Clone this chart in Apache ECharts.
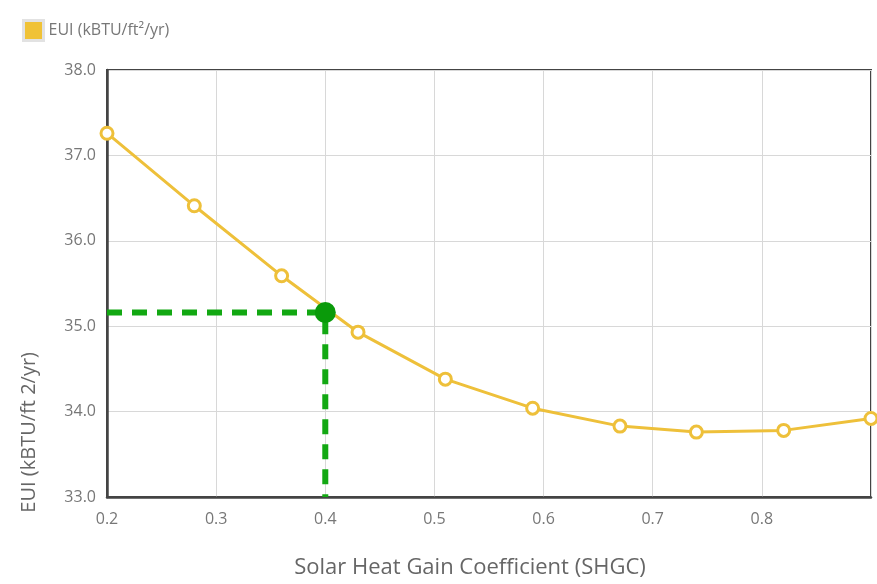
<!DOCTYPE html>
<html><head><meta charset="utf-8">
<script src="https://cdn.jsdelivr.net/npm/echarts@6/dist/echarts.min.js"></script>
<style>html,body{margin:0;padding:0;background:#fff}#c{width:877px;height:584px}</style>
</head><body><div id="c"></div>
<script>
const shgc = [0.2, 0.28, 0.36, 0.43, 0.51, 0.59, 0.67, 0.74, 0.82, 0.9];
const eui = [37.26, 36.41, 35.59, 34.93, 34.38, 34.04, 33.83, 33.76, 33.78, 33.92];
const selX = 0.4;
const selY = 35.16;
const yMin = 33, yMax = 38, xMin = 0.2, xMax = 0.9;
const seriesName = 'EUI (kBTU/ft²/yr)';
const xTitle = 'Solar Heat Gain Coefficient (SHGC)';
const yTitle = 'EUI (kBTU/ft 2/yr)';

const font = '"Open Sans", "DejaVu Sans", sans-serif';
const chart = echarts.init(document.getElementById('c'));
chart.setOption({
  animation: false,
  textStyle: {fontFamily: font},
  legend: {
    left: 17, top: 14, itemWidth: 20, itemHeight: 20, itemGap: 10, icon: 'rect',
    data: [{name: seriesName, itemStyle: {color: '#f0c236', borderColor: '#e2e2e2', borderWidth: 3}}],
    textStyle: {fontSize: 16, color: '#777', fontFamily: font}
  },
  grid: {left: 107, right: 6, top: 70, bottom: 84, show: true, borderColor: '#444', borderWidth: 2},
  xAxis: {
    type: 'value', min: xMin, max: xMax, interval: 0.1,
    name: xTitle, nameLocation: 'middle', nameGap: 60,
    nameTextStyle: {fontSize: 22, color: '#666', fontFamily: font, padding: [0, 38, 0, 0]},
    axisLine: {show: true, lineStyle: {color: '#444', width: 2.5}},
    axisTick: {show: false},
    axisLabel: {color: '#777', fontSize: 16, margin: 14, showMaxLabel: false, formatter: v => v.toFixed(1)},
    splitLine: {show: true, lineStyle: {color: '#d8d8d8', width: 1}}
  },
  yAxis: {
    type: 'value', min: yMin, max: yMax, interval: 1,
    axisLine: {show: true, lineStyle: {color: '#444', width: 2.5}},
    axisTick: {show: false},
    axisLabel: {color: '#777', fontSize: 16, margin: 11, formatter: v => v.toFixed(1)},
    splitLine: {show: true, lineStyle: {color: '#d8d8d8', width: 1}}
  },
  graphic: [{
    type: 'text', left: 19, top: 352, rotation: Math.PI / 2,
    style: {text: yTitle, fontSize: 20, fill: '#666', fontFamily: font}
  }],
  series: [
    {
      name: 'guide', type: 'line', data: [[xMin, selY], [selX, selY], [selX, yMin]],
      symbol: 'none', lineStyle: {color: '#12a812', width: 6, type: [15, 10]}, z: 1, silent: true
    },
    {
      name: seriesName, type: 'line', data: shgc.map((x, i) => [x, eui[i]]),
      symbol: 'circle', symbolSize: 12, showSymbol: true,
      lineStyle: {color: '#eec03a', width: 3},
      itemStyle: {color: '#fff', borderColor: '#eec03a', borderWidth: 3}, z: 3
    },
    {
      name: 'sel', type: 'scatter', data: [[selX, selY]], symbolSize: 21,
      itemStyle: {color: '#0a9a0a', opacity: 1}, z: 5
    }
  ]
});
</script></body></html>
